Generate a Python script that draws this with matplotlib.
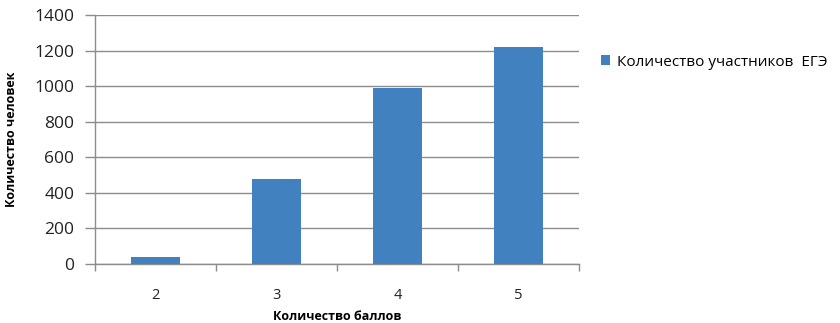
import matplotlib
matplotlib.use("Agg")
import matplotlib.pyplot as plt
import numpy as np

plt.rcParams['font.family'] = ['Open Sans', 'DejaVu Sans']

categories = ["2", "3", "4", "5"]
values = [41, 479, 988, 1219]
series_name = "Количество участников  ЕГЭ"
x_label = "Количество баллов"
y_label = "Количество человек"
y_ticks = [0, 200, 400, 600, 800, 1000, 1200, 1400]

bar_color = "#4181BF"
grid_color = "#8C8C8C"

fig = plt.figure(figsize=(8.4, 3.23), dpi=100)
ax = fig.add_axes([95/840, 59/323, 484/840, 249/323])

x = np.arange(len(categories))
ax.bar(x, values, width=0.4, color=bar_color, label=series_name, zorder=3)

ax.set_xlim(-0.5, len(categories) - 0.5)
ax.set_ylim(0, 1400)
ax.set_yticks(y_ticks)
ax.set_yticklabels([str(t) for t in y_ticks], fontsize=12.5, color="#222222")
ax.yaxis.grid(True, color=grid_color, linewidth=1.0, zorder=0)
ax.set_axisbelow(True)

ax.set_xticks(x)
ax.set_xticklabels(categories, fontsize=10.5, color="#222222")
ax.set_xticks(np.arange(len(categories) + 1) - 0.5, minor=True)
ax.tick_params(axis='x', which='major', length=0, pad=17)
ax.tick_params(axis='x', which='minor', length=5, width=1, color=grid_color, direction='out')
ax.tick_params(axis='y', which='major', length=7, width=1, color=grid_color, pad=8)

for s in ['top', 'right']:
    ax.spines[s].set_visible(False)
for s in ['left', 'bottom']:
    ax.spines[s].set_color(grid_color)
    ax.spines[s].set_linewidth(1.0)

ax.set_xlabel(x_label, fontsize=9, fontweight='bold')
ax.xaxis.set_label_coords(0.5, -(317 - 264) / 249, transform=ax.transAxes)
ax.xaxis.label.set_va('center')
ax.set_ylabel(y_label, fontsize=9, fontweight='bold')
ax.yaxis.set_label_coords(-(95 - 12) / 484, (264 - 139) / 249, transform=ax.transAxes)
ax.yaxis.label.set_va('center')

leg = fig.legend(handles=ax.patches[:1], labels=[series_name], loc='center left',
                 bbox_to_anchor=(593/840, 1 - 62/323), frameon=False, fontsize=11,
                 handlelength=0.6, handleheight=0.6, handletextpad=0.5, borderpad=0)

fig.savefig("out.png", dpi=100)
